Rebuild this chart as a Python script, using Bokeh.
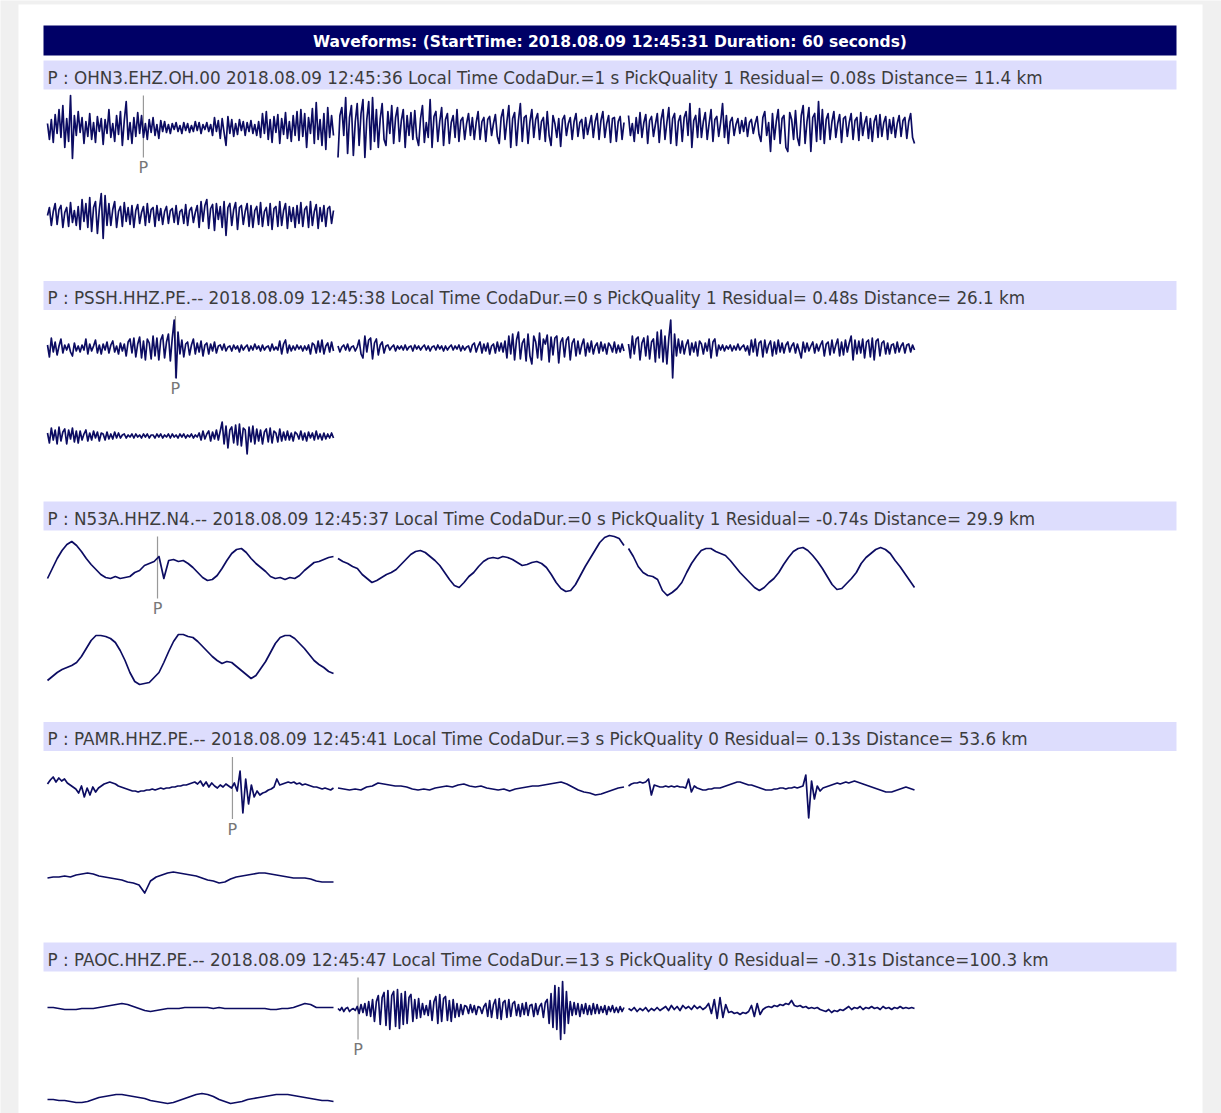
from bokeh.plotting import figure
from bokeh.models import Range1d
from bokeh.core.properties import value
from bokeh.embed import file_html
from bokeh.resources import INLINE

# ---------------- data ----------------
TITLE = "Waveforms: (StartTime: 2018.08.09 12:45:31 Duration: 60 seconds)"
SEG_SECONDS = 15  # each drawn trace piece covers 15 s, 4 pieces = 60 s

stations = ["OHN3.EHZ.OH.00", "PSSH.HHZ.PE.--", "N53A.HHZ.N4.--", "PAMR.HHZ.PE.--", "PAOC.HHZ.PE.--"]
pick_times = ["2018.08.09 12:45:36", "2018.08.09 12:45:38", "2018.08.09 12:45:37",
              "2018.08.09 12:45:41", "2018.08.09 12:45:47"]
coda_dur = [1, 0, 0, 3, 13]
pick_quality = [1, 1, 1, 0, 0]
residuals = ["0.08", "0.48", "-0.74", "0.13", "-0.31"]
distances = [11.4, 26.1, 29.9, 53.6, 100.3]
pick_offset_s = [5.03, 6.71, 5.77, 9.70, 16.05]  # P pick, seconds after start

# trace amplitudes (counts, up positive), uniformly sampled over each 15 s piece
OHN3_S1 = [4, -12, 8, -15, 13, -6,
           18, -10, 22, -20, 9, -14, 32, -31, 12, -8,
           16, -5, 10, -16, 6, -9, 14, -12, 5, -15, 11, -4, 9,
           -17, 8, -6, 18, -10, 4, -14, 12, -7, 16, -18, 7, 26, -12, 5, -16, 10, -9, 15, -6,
           12, -10, 4, -12, 8, -5, 10, -8, 3, -11, 7, -4, 6,
           -5, 3, -6, 4, -2, 5, -4, 2, -6, 5, -3, 4, -5, 2, -4, 6, -3, 5, -6, 3, -2, 5, -4, 3,
           -8, 10, -4, 7, -11, 9, -5, -18, 11, -6, 8, -9, 4,
           -7, 8, -3, 6, -8, 5, -4, 7, -6, 3, -8, 6,
           -10, 14, -6, 16, -12, 8, -15, 11, -5, 13, -16, 9, -7, 15, -11, 6, -14, 12, -8, 16, -13,
           18, -9, 14, -20, 10, -6, 19, -16, 25, -12, 8, -18, 14, -22, 20, -10, 12, -8]
OHN3_S2 = [-30, 12, 20, -8, 30, -26, 10, 22, -28, 6, 24, -18, 14, 28, -30, 8, 26, -22, 30, -14, 18,
           -20, 9, 24, -12, -18, 16, -6, 22, -16, 10, 20, -14, 7, 18, -20, 12, -8, 15, -12, 17, -10,
           -18, 9, 22, -15, 5, -10, 28, -20, 11, 16, -14, 6, 20, -18, 8, 14, -16, 5, 12, -10, 18, -14, 7, 10, -12, 4,
           14, -8, 10, -12, 5, 16, -12, 6, 10, -14, 8, 11, -8, 4, 13, -9,
           -16, 10, 18, -12, 6, 22, -20, 9, 15, -18, 7, 24, -14, 10, 12, -16, 6, 18, -10, 8, 14,
           -12, 6, 10, -14, 16, -8, -18, 12, 4, -10, 9,
           -19, 8, 12, -8, 4, 10, -12, 6, 14, -9, 5, 8, -11, 10, -7, 3, 12, -10, 6,
           14, -12, 7, 16, -10, 4, 12, -15, 9, 10, -14, 6, 11, -12, 5]
OHN3_S3 = [12, -8, 4, -14, 10, -6, 15, -10, 5, 13, -16, 7, 11, -9, 3, 14,
           -15, 8, 18, -12, 5, 20, -16, 9, 14, -18, 6, 12, -14, 10, 16, -8, 24, -20, 7, 12, -10, 19,
           -10, 6, 15, -12, 4, 18, -14, 8, 11, -9, 5, 24, -10, 12, -16, 6,
           10, -8, 3, 9, -6, 7, -4, 10, -9, 5, 8, -6, 4, 11, -7,
           -14, 10, 16, -8, 5, -24, 14, -12, 6, 18, -16, 9, 12, -20, -24, 15, 8, -12, 17, -10,
           -18, 12, 22, -16, 6, 20, -24, 10, 14, -14, 26, -12,
           18, -16, 8, 14, -12, 6, 16, -10, 4, 13, -15, 9, 11, -9, 5, 14, -12, 7, 10, -13,
           15, -8, 4, 11, -11, 9, -14, 6, 12, -10,
           13, -9, 5, 11, -12, 8, -6, 10, -10, 4, 12, -9, 7, 10, -11, 6, 14, -10, -16]
OHN3_S4 = [0, 8, -10, 4, 12, -9, 6, 10, -12, 3, 8, -11, 13, -7, 5, -10, 9,
           -14, 16, -6, 12, -12, 18, -16, 8, 14, -18, 6, 22, -23, 20, -10, 12,
           -10, 6, 14, -12, 4, 9, -11, 13, -6, 8, -9, 10, -12, 5, 11, -8, 3, 9, -10, 12, -7, 6, 8, -11, 10, -5, 7, -9, 4,
           9, -8, 5, 7, -7, 10, -9, 4, 6, -8, 11, -10, 5, 8, -7, 3, 10,
           -12, 14, -6, 10, 16, -13, 7, 11, -15, 12, -4, 9, -12, 14, -20, 8, 12, -10, 6, 13, -14, 8, 10, -9, 4, 12, -11,
           10, -12, 5, 9, -9, 13, -11, 4, 8, -10, 12, -14, 7, 9, -11, 14, -10, 5, 12, -13, 9, -6,
           8, -12, 10, -8, 13, -11, 6, 9, -12, 14, -10, 4, 11, -13, 8, -6, 10, -11, 7, 9, -8, 5]

PSSH_S1 = [3, -9, 10, -4, 6, -7,
           2, 9, -5, 3, -2, 4, -4, -8, 5, -3, 2, -4, 3, -2, 9, -6, 4, -3, 2, 8, -5,
           3, -6, 4, -2, 6, -5, 3, 7, -4, 2, -6, 5, -3, 4,
           -8, 6, 9, -5, 10, -9, 4, 11, -10, 7, -12, 9, 5, -11, 12, -8, 10,
           -12, 8, 13, -10, 6, 14, -13, 10,
           28, -30,
           16, -6, 8, -9, 4, 6, -7, 3, 9, -6, 5, -4, 7, -8, 3, 5, -6, 4, -3, 6, -5, 2,
           3, -2, 4, -3, 1, 2, -3, 3, -1, 2, -4, 3, -2, 1, 3, -3, 2, -2, 4, -1, 2, -3, 3, -2, 1, 2,
           -3, 4, -2, 1, -2,
           7, -6, 4, 8, -5, 3,
           -3, 2, -2, 3, -1, 2, -3, 2, -2, 3,
           -6, 5, 3, -5, 7, -4, 8, -6, 2, 5, -4, 6, -3]
PSSH_S2 = [2, -4, 1, 3, -2, 4, -3, 1, 2, -3, 1,
           8, -6, -10, 12, -4, 8, 10, -11, 5, 9, -7, 3, 6, -5, 2,
           3, -2, 1, 3, -3, 2, -1, 2, -2, 3, -2, 1, 2, -3, 3, -1, 2, -2, 1, 3, -2, 2,
           -3, 1, 2, -2, 3, -1, 2, -3, 2, -2, 1, 3, -2, 2, -1, 3, -3, 2, -2, 1, 2,
           -4, 3, 5, -4, 2, 6, -5, 4, -3, 5, -6, 2, 4, -5, 6, -3, 5, -4,
           7, -10, 12, -6, 14, -12, 8, 16, -11, 5, 9, -13, 14, -8, -16, 12, 6, -10, 15,
           -12, 9, 4, 13, -14, 11, -7, 10, 12, -15, 6, 10, -9, 8, 11, -12, 5, 9, -8,
           7, -6, 3, 9, -8, 5, -4, 7, -6, 2, 5, -5, 6, -3, 4, -6, 5, 2, -4, 6, -5, 3, -4, 4, -3]
PSSH_S3 = [4, -10, 12, -6, 9, 11, -12, 5, 10, -8, 12, -11, 6, 9,
           -14, 16, -10, 18, -14, 12, -16, 10, 28, -30,
           14, -8, 9, -5, 7, -6, 3, 8, -7, 5, -4, 6, -8, 7, 4, -6, 5, -3,
           9, -10, 6, 9, -8,
           3, -2, 3, -3, 2, -1, 3, -3, 2, -2, 4, -2, 1, 3, -3, 2,
           -7, 8, -4, 9, -8, 5, 7, -9, 8, -5, 3, 7, -8, 6, -6, 8, -4, 5,
           -5, 3, 6, -4, 2, 5, -5, 4, -3, -10, 6, -4, 5, -3, 2, 6, -5, 4, -3, 3,
           7, -8, 4, 6, -7, 8, -5, 3, 9, -8, 6, -7, 8, -4, 5, 12, -12, 8, -6, 7, -5,
           9, -10, 6, 8, -9, 10, -12, 7, 9, -8, 5, 7, -6,
           5, -6, 3, 4, -5, 6, -4, 2, 5, -5, 3, 4, -4, 3, -2]
PSSH_S4 = [3, -7, 8, -4, 6, -8, 9, -5, 4, 7, -8, 6, -3, 8, -6, 5, -7,
           5, -4, 2, 6, -5, 3, -4, 5, -2, 4, -5, 3, 2, -4, 4, -3, 2, -3, 4, -2, 3,
           -2, 1, 2, -2, 1, -1, 2, -2, 2, -1, 1, -2, 2, -1, 2, -2, 1, 1, -2, 2, -1,
           2, -2, 1, -1, 2, -2, 2, -1, 1, -2, 2, -1, 2, -2, 1, -1, 2, -2, 1, -1,
           3, -4, 5, -3, 2, 5, -5, 4, -3, 6, -4, 5,
           14, -8, 10, -12, 6, 9, -7, 11, -9, 12, -10, 8, 6, -18, 9, -6, 10,
           -8, 7, -5, 6, -8, 4, 7, -6, 8, -7, 5, 3, -6, 7, -5, 4, -4,
           5, -4, 3, -5, 4, 2, -3, 5, -4, 3, -5, 4, -2, 3, -4, 5, -3, 2, -4, 3, -3, 2, -2, 3, -2]

N53A_S1 = [-10, 0, 10, 18, 24, 27, 23, 17, 10, 4, -1, -6, -9, -10, -8, -10, -9, -8, -4, -2,
           3, 5, 7, 12, -10, 8, 9, 7, 8, 5, 1, -4, -9, -12, -11, -7, 0, 8, 15, 19,
           20, 16, 10, 5, 1, -3, -8, -10, -9, -11, -9, -10, -7, -2, 2, 6, 7, 9, 11, 12]
N53A_S2 = [10, 7, 5, 2, 0, -6, -10, -14, -12, -9, -6, -4, -1, 4, 9, 14, 17, 18, 16, 12,
           8, 3, -4, -11, -17, -19, -14, -8, -4, 2, 7, 10, 11, 10, 12, 11, 9, 6, 3, 4,
           6, 7, 5, 1, -6, -14, -20, -23, -22, -16, -7, 2, 10, 18, 26, 31, 33, 32, 30, 23]
N53A_S3 = [20, 12, 2, -4, -7, -8, -11, -22, -27, -24, -20, -14, -4, 5, 12, 18, 20, 20, 17, 15,
           13, 8, 2, -4, -9, -14, -19, -22, -19, -14, -10, -4, 4, 11, 17, 20, 21, 18, 13, 7,
           0, -8, -16, -21, -20, -15, -10, -4, 5, 11, 15, 19, 21, 19, 15, 8, 2, -5, -12, -19]
N53A_S4 = [-24, -20, -16, -13, -11, -9, -6, 0, 8, 16, 21, 21, 20, 18, 14, 6, -4, -16, -25, -28,
           -27, -26, -21, -16, -6, 5, 15, 22, 22, 20, 19, 15, 10, 5, 0, -4, -7, -5, -6, -10,
           -14, -18, -22, -19, -12, -5, 4, 13, 19, 21, 21, 18, 13, 8, 2, -4, -8, -11, -15, -17]

PAMR_S1 = [5, 9, 12, 7, 11, 8, 10, 6, 4, 2, 0, -4, 3, -8, 1, -6, 2, -3, 1, 3,
           5, 6, 7, 6, 5, 3, 2, 1, 0, -1, -2, -2, -3, -2, -2, -1, -1, 0, -1, 0,
           1, 0, 1, 1, 2, 2, 3, 3, 4, 4, 5, 6, 7, 5, 8, 3, 7, 2, 6, 3,
           1, 4, 2, 5, 3, 1, 6, -2, 18, -24, 10, -15, 4, -8, -2, -6, -4, -3, -1, 0,
           2, 10, 4, 5, 6, 7, 6, 7, 5, 6, 4, 5, 4, 3, 2, 2, 1, 0, 1, 0, -1, 1]
PAMR_S2 = [1, 0, -1, 0, -1, 2, 3, 6, 5, 4, 3, 3, 2, 0, -1, 0, -1, 1, 2, 3,
           2, 4, 5, 3, 2, 3, 1, 0, -1, 0, -2, 0, 1, 2, 3, 3, 4, 5, 6, 7,
           5, 2, -1, -3, -4, -6, -5, -3, -1, 1, 2]
PAMR_S3 = [3, 5, 6, 6, 7, 6, 7, 10, -6, 4, 3, 2, 2, 3, 2, 3, 2, 3, 2, 2,
           1, 10, -3, 3, 1, 0, -1, -1, 0, 0, 1, 1, 1, 2, 3, 4, 5, 6, 7, 7,
           6, 5, 4, 4, 3, 2, 1, 0, -1, -1, -1, 0, 0, 1, 1, 0, 1, 1, 2, 1,
           2, 3, 14, -29, 8, -10, 3, -2, 1, 2, 3, 4, 5, 6, 5, 6, 7, 6, 7, 8,
           7, 6, 5, 4, 3, 2, 1, 0, -1, -2, -3, -3, -3, -2, -1, 0, 1, 2, 1, 0, -1]
PAMR_S4 = [-1, 0, 0, 1, 0, 2, 3, 4, 3, 1, 0, -1, -2, -3, -5, -6, -8, -16, -4, 0,
           2, 4, 5, 4, 3, 2, 1, -1, -3, -4, -6, -5, -2, 0, 1, 2, 3, 4, 4, 3,
           2, 1, 0, -1, -1, -1, -2, -4, -5, -5, -5]

PAOC_S1 = [2, 2, 1, 0, 0, 0, 1, 1, 1, 2, 3, 4, 5, 6, 5, 3, 1, -1, -2, -1,
           0, 1, 1, 1, 2, 2, 2, 2, 2, 1, 2, 1, 1, 1, 1, 1, 1, 1, 1, 0,
           0, 1, 1, 2, 4, 6, 5, 2, 2, 2, 2]
PAOC_S2 = [1, -1, 2, -2, 1, 2, -2, 0, 1, -1,
           3, -4, 5, -3, 6, -6, 8, -7,
           10, -12, 8, 14, -15, 12, 17, -16,
           19, -20, 14, 18, -17, 20, -19, 16, -15, 18, -14, 12, 15, -12, 10, -9, 11, -8, 6, -5,
           4, -6, 9, -11, 8, 13, -14, 15, -12, 11, 13, -11, 9, -12, 10, -8, 6, -7, 5,
           -5, 4, 3, -4, 5, -3, 4, -5, 3, 2, -4, 3,
           6, -7, 9, -8, 5, 10, -9, 11, -10, 7, 9, -8, 10, -7, 6, 8, -6, 5, -7,
           6, -5, 7, -6, 4, 5, -7, 6, -5, 3, 6, -8, 7,
           10, -14, 16, -18, 24, -20, 22, -30, 28, -24, 18, -14,
           8, -6, 7, -5, 6, -7, 5, -4, 6, -5, 4, -5, 6, -4, 5, -4, 3, -3, 4, -5, 3, -2, 4, -3, 2, -3, 3, -2, 2]
PAOC_S3 = [1, -1, 2, -2, 1, -1, 2, -2, 1, -1, 2, -1, 1, 3, -1, 4, 0, 3, -1, 4,
           1, 3, 0, 4, 1, 3, 0, 2, 6, -4, 10, -9, 12, -8, 5, -3, -2, -4, -3, -5,
           -3, -4, -2, 4, -7, 6, -5, 0, 2, 3, 2, 4, 3, 5, 4, 6, 5, 9, 4, 3,
           4, 2, 3, 1, 2, 1, 2, 0, -1, -2, 0, -3, -1, -2, 0, -1, 1, 3, 0, 2,
           1, 3, 0, 2, 1, 3, 1, 2, 0, 3, 1, 2, 0, 2, 1, 3, 1, 2, 1, 2, 1]
PAOC_S4 = [-2, -2, -3, -3, -4, -5, -5, -4, -2, 0, 1, 2, 3, 3, 2, 1, 0, -1, -3, -4,
           -5, -6, -5, -3, -1, 1, 3, 4, 3, 1, -2, -4, -6, -5, -4, -2, -1, 0, 1, 2,
           3, 3, 3, 2, 1, 0, -1, -2, -3, -3, -4]

traces = [
    [OHN3_S1, OHN3_S2, OHN3_S3, OHN3_S4],
    [PSSH_S1, PSSH_S2, PSSH_S3, PSSH_S4],
    [N53A_S1, N53A_S2, N53A_S3, N53A_S4],
    [PAMR_S1, PAMR_S2, PAMR_S3, PAMR_S4],
    [PAOC_S1, PAOC_S2, PAOC_S3, PAOC_S4],
]

# ---------------- layout (page pixels) ----------------
W, H = 1221, 1113
PANEL_L, PANEL_R = 18, 1202
BAR_L, BAR_R = 43, 1176
TITLE_TOP, TITLE_BOT = 25, 55
BLOCK_TOP0, BLOCK_STEP, HEADER_H = 60, 220.5, 29
LINE_OFF = [67, 155]
TRACE_X0, SEG_W, SEG_GAP = 47, 286, 4.5
GAIN = 1.0

NAVY = "#000066"
WAVE = "#0c0c62"
LAVENDER = "#ddddfd"
BG = "#f0f0f0"

p = figure(width=W, height=H, x_range=Range1d(0, W), y_range=Range1d(H, 0),
           output_backend="svg", toolbar_location=None, min_border=0,
           background_fill_color=BG, border_fill_color=BG)
p.axis.visible = False
p.grid.visible = False
p.outline_line_color = None

# white panel
p.quad(left=[PANEL_L], right=[PANEL_R], top=[4], bottom=[H + 10], fill_color="white", line_color=None)

# title bar
p.quad(left=[BAR_L], right=[BAR_R], top=[TITLE_TOP], bottom=[TITLE_BOT], fill_color=NAVY, line_color=None)
p.text(x=[(BAR_L + BAR_R) / 2], y=[(TITLE_TOP + TITLE_BOT) / 2 + 1], text=[TITLE],
       text_font=value("DejaVu Sans"), text_font_style="bold", text_font_size=value("15.5px"),
       text_color="white", text_align="center", text_baseline="middle")


def seg_place(k):
    col = k if k < 3 else k - 3
    row = 0 if k < 3 else 1
    return TRACE_X0 + col * (SEG_W + SEG_GAP), row


xs_all, ys_all = [], []
for s, sta in enumerate(stations):
    top = BLOCK_TOP0 + s * BLOCK_STEP
    p.quad(left=[BAR_L], right=[BAR_R], top=[top], bottom=[top + HEADER_H],
           fill_color=LAVENDER, line_color=None)
    header = (f"P : {sta} {pick_times[s]} Local Time CodaDur.={coda_dur[s]} s "
              f"PickQuality {pick_quality[s]} Residual= {residuals[s]}s Distance={distances[s]:5.1f} km")
    p.text(x=[TRACE_X0], y=[top + 17], text=[header],
           text_font=value("DejaVu Sans"), text_font_size=value("16.8px"),
           text_color="#3c3c3c", text_align="left", text_baseline="middle")

    for k, amps in enumerate(traces[s]):
        x0, row = seg_place(k)
        yc = top + LINE_OFF[row]
        n = len(amps)
        xs_all.append([x0 + SEG_W * i / (n - 1) for i in range(n)])
        ys_all.append([yc - GAIN * a for a in amps])

    # P pick marker
    t = pick_offset_s[s]
    k = int(t // SEG_SECONDS)
    x0, row = seg_place(k)
    xp = x0 + (t - k * SEG_SECONDS) / SEG_SECONDS * SEG_W
    yc = top + LINE_OFF[row]
    p.segment(x0=[xp], y0=[yc - 32], x1=[xp], y1=[yc + 30], line_color="#999999", line_width=1.2)
    p.text(x=[xp], y=[yc + 40], text=["P"], text_font=value("DejaVu Sans"),
           text_font_size=value("16px"), text_color="#777777",
           text_align="center", text_baseline="middle")

p.multi_line(xs=xs_all, ys=ys_all, line_color=WAVE, line_width=1.7, line_join="round")

open("out.html", "w").write(file_html(p, INLINE))
